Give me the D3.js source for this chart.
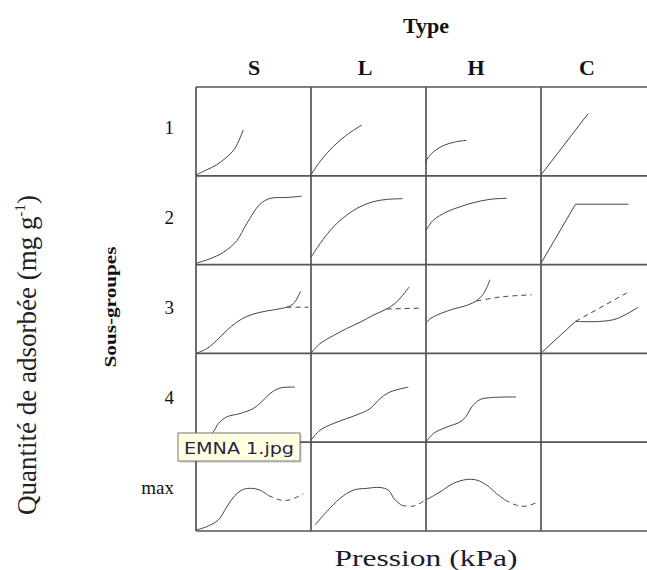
<!DOCTYPE html>
<html>
<head>
<meta charset="utf-8">
<script src="https://cdn.jsdelivr.net/npm/d3@7"></script>
<style>
  body { margin: 0; background: #fff; }
  svg { display: block; }
</style>
</head>
<body>
<script>
/* Data: isotherm shapes per type (S, L, H, C) and sub-group (1..4, max)
   points are [relative pressure, relative amount] inside each cell */

var types = ["S", "L", "H", "C"];
var subgroups = ["1", "2", "3", "4", "max"];

var s1 = [[0,0.01],[0.093,0.067],[0.18,0.124],[0.267,0.21],[0.339,0.31],[0.411,0.517]];
var l1 = [[0,0.01],[0.078,0.16],[0.194,0.33],[0.31,0.46],[0.44,0.57]];
var h1 = [[0,0.14],[0.006,0.18],[0.064,0.27],[0.15,0.34],[0.25,0.38],[0.35,0.40]];
var c1 = [[0,0.01],[0.41,0.70]];

var s2 = [[0,0.015],[0.12,0.065],[0.24,0.14],[0.355,0.27],[0.44,0.46],[0.557,0.68],[0.643,0.745],[0.79,0.756],[0.92,0.77]];
var l2 = [[0,0.083],[0.078,0.235],[0.194,0.424],[0.31,0.557],[0.426,0.651],[0.54,0.708],[0.667,0.735],[0.797,0.742]];
var h2 = [[0,0.386],[0.064,0.5],[0.18,0.594],[0.296,0.651],[0.41,0.697],[0.557,0.735],[0.702,0.747]];
var c2 = [[0,0.015],[0.30,0.68],[0.76,0.68]];

var s3 = [[0,0],[0.093,0.053],[0.18,0.146],[0.267,0.258],[0.354,0.351],[0.441,0.416],[0.557,0.463],[0.672,0.49],[0.788,0.52],[0.846,0.558],[0.91,0.70]];
var s3Desorb = [[0.788,0.52],[0.977,0.52]];
var l3 = [[0,0.003],[0.078,0.11],[0.194,0.20],[0.31,0.28],[0.426,0.35],[0.54,0.43],[0.658,0.50],[0.745,0.58],[0.855,0.75]];
var l3Desorb = [[0.658,0.50],[0.963,0.51]];
var h3 = [[0,0.34],[0.035,0.39],[0.122,0.446],[0.238,0.50],[0.354,0.54],[0.441,0.595],[0.499,0.67],[0.557,0.83]];
var h3Desorb = [[0.441,0.59],[0.644,0.635],[0.92,0.66]];
var c3 = [[0,0.003],[0.30,0.36]];
var c3Branch = [[0.30,0.36],[0.513,0.36],[0.658,0.39],[0.846,0.52]];
var c3Desorb = [[0.30,0.36],[0.745,0.68]];

var s4 = [[0,0],[0.07,0.04],[0.15,0.116],[0.194,0.21],[0.267,0.285],[0.383,0.323],[0.498,0.379],[0.57,0.453],[0.643,0.547],[0.73,0.61],[0.86,0.62]];
var l4 = [[0,0.022],[0.078,0.135],[0.194,0.21],[0.31,0.266],[0.426,0.322],[0.513,0.378],[0.6,0.49],[0.687,0.565],[0.846,0.62]];
var h4 = [[0,0.003],[0.064,0.098],[0.18,0.17],[0.296,0.228],[0.354,0.30],[0.397,0.397],[0.47,0.48],[0.542,0.50],[0.783,0.51]];

var s5 = [[0,0.01],[0.093,0.049],[0.194,0.124],[0.267,0.27],[0.339,0.40],[0.411,0.468],[0.484,0.48],[0.557,0.46],[0.629,0.40]];
var s5Dash = [[0.629,0.40],[0.73,0.35],[0.817,0.35],[0.933,0.42]];
var l5 = [[0.035,0.067],[0.136,0.217],[0.252,0.367],[0.368,0.46],[0.484,0.48],[0.60,0.49],[0.672,0.46],[0.73,0.35],[0.788,0.29]];
var l5Dash = [[0.788,0.29],[0.89,0.28],[0.997,0.35]];
var h5 = [[0,0.35],[0.122,0.44],[0.238,0.536],[0.354,0.58],[0.441,0.573],[0.528,0.517],[0.614,0.42],[0.687,0.35]];
var h5Dash = [[0.687,0.35],[0.788,0.29],[0.875,0.28],[0.977,0.33]];

var curves = [
	{type: "S", group: "1", pts: s1}, {type: "L", group: "1", pts: l1},
	{type: "H", group: "1", pts: h1}, {type: "C", group: "1", pts: c1, straight: true},
	{type: "S", group: "2", pts: s2}, {type: "L", group: "2", pts: l2},
	{type: "H", group: "2", pts: h2}, {type: "C", group: "2", pts: c2, straight: true},
	{type: "S", group: "3", pts: s3}, {type: "S", group: "3", pts: s3Desorb, dashed: true},
	{type: "L", group: "3", pts: l3}, {type: "L", group: "3", pts: l3Desorb, dashed: true},
	{type: "H", group: "3", pts: h3}, {type: "H", group: "3", pts: h3Desorb, dashed: true},
	{type: "C", group: "3", pts: c3, straight: true}, {type: "C", group: "3", pts: c3Branch},
	{type: "C", group: "3", pts: c3Desorb, dashed: true, straight: true},
	{type: "S", group: "4", pts: s4}, {type: "L", group: "4", pts: l4}, {type: "H", group: "4", pts: h4},
	{type: "S", group: "max", pts: s5}, {type: "S", group: "max", pts: s5Dash, dashed: true},
	{type: "L", group: "max", pts: l5}, {type: "L", group: "max", pts: l5Dash, dashed: true},
	{type: "H", group: "max", pts: h5}, {type: "H", group: "max", pts: h5Dash, dashed: true}
];


/* Canvas */

var width = 647;
var height = 570;

var svg = d3.select("body").append("svg")
	.attr("width", width)
	.attr("height", height);

var serif = "'Liberation Serif', 'Times New Roman', serif";

// grid of cells
var col = d3.scaleBand().domain(types).range([196, 656]);
var row = d3.scaleBand().domain(subgroups).range([87, 531]);

// label positions (the printed labels sit a little off the cell centres)
var headerX = d3.scalePoint().domain(types).range([254, 587]);
var rowLabelY = d3.scalePoint().domain(subgroups).range([134, 494]);

// pressure / amount inside one cell
var px = d3.scaleLinear().domain([0, 1]).range([0, col.bandwidth()]);
var py = d3.scaleLinear().domain([0, 1]).range([row.bandwidth(), 0]);

var grid = svg.append("g").attr("class", "grid");

grid.selectAll("line.v")
	.data(types.concat(["end"]))
	.enter().append("line")
		.attr("class", "v")
		.attr("x1", function(d, i) { return col.range()[0] + i * col.bandwidth(); })
		.attr("x2", function(d, i) { return col.range()[0] + i * col.bandwidth(); })
		.attr("y1", row.range()[0])
		.attr("y2", row.range()[1])
		.attr("stroke", "#555")
		.attr("stroke-width", 1.7);

grid.selectAll("line.h")
	.data(subgroups.concat(["end"]))
	.enter().append("line")
		.attr("class", "h")
		.attr("x1", col.range()[0])
		.attr("x2", col.range()[1])
		.attr("y1", function(d, i) { return row.range()[0] + i * row.bandwidth(); })
		.attr("y2", function(d, i) { return row.range()[0] + i * row.bandwidth(); })
		.attr("stroke", "#555")
		.attr("stroke-width", 1.7);

// isotherms
var smooth = d3.line()
	.x(function(d) { return px(d[0]); })
	.y(function(d) { return py(d[1]); })
	.curve(d3.curveCatmullRom.alpha(0.5));

var straight = d3.line()
	.x(function(d) { return px(d[0]); })
	.y(function(d) { return py(d[1]); });

svg.append("g")
	.attr("class", "curves")
	.selectAll("path")
	.data(curves)
	.enter().append("path")
		.attr("transform", function(d) { return "translate(" + col(d.type) + "," + row(d.group) + ")"; })
		.attr("d", function(d) { return d.straight ? straight(d.pts) : smooth(d.pts); })
		.attr("fill", "none")
		.attr("stroke", "#444")
		.attr("stroke-width", 1)
		.attr("stroke-dasharray", function(d) { return d.dashed ? "5,4" : null; });

// titles and labels
svg.append("text")
	.attr("x", 426)
	.attr("y", 33)
	.attr("text-anchor", "middle")
	.attr("font-family", serif)
	.attr("font-weight", "bold")
	.attr("font-size", 22)
	.attr("fill", "#111")
	.text("Type");

svg.selectAll("text.header")
	.data(types)
	.enter().append("text")
		.attr("class", "header")
		.attr("x", function(d) { return headerX(d); })
		.attr("y", 75)
		.attr("text-anchor", "middle")
		.attr("font-family", serif)
		.attr("font-weight", "bold")
		.attr("font-size", 22)
		.attr("fill", "#111")
		.text(function(d) { return d; });

svg.selectAll("text.rowlabel")
	.data(subgroups)
	.enter().append("text")
		.attr("class", "rowlabel")
		.attr("x", 174)
		.attr("y", function(d) { return rowLabelY(d); })
		.attr("text-anchor", "end")
		.attr("font-family", serif)
		.attr("font-size", 19)
		.attr("fill", "#111")
		.text(function(d) { return d; });

svg.append("text")
	.attr("transform", "translate(116,307) rotate(-90)")
	.attr("text-anchor", "middle")
	.attr("font-family", serif)
	.attr("font-weight", "bold")
	.attr("font-size", 17)
	.attr("textLength", 121)
	.attr("lengthAdjust", "spacingAndGlyphs")
	.attr("fill", "#111")
	.text("Sous-groupes");

var yTitle = svg.append("text")
	.attr("transform", "translate(36,355) rotate(-90)")
	.attr("text-anchor", "middle")
	.attr("font-family", serif)
	.attr("font-size", 27)
	.attr("fill", "#222");
yTitle.append("tspan").text("Quantité de adsorbée (mg g");
yTitle.append("tspan").attr("font-size", 15).attr("dy", -11).text("-1");
yTitle.append("tspan").attr("dy", 11).text(")");

svg.append("text")
	.attr("x", 426)
	.attr("y", 566)
	.attr("text-anchor", "middle")
	.attr("font-family", serif)
	.attr("font-size", 23)
	.attr("textLength", 183)
	.attr("lengthAdjust", "spacingAndGlyphs")
	.attr("fill", "#1c1c30")
	.text("Pression (kPa)");

// file-name tooltip that sits over the chart
var tip = svg.append("g").attr("class", "tooltip");

tip.append("rect")
	.attr("x", 180)
	.attr("y", 435)
	.attr("width", 122)
	.attr("height", 28)
	.attr("fill", "#000")
	.attr("opacity", 0.12);

tip.append("rect")
	.attr("x", 178)
	.attr("y", 433)
	.attr("width", 122)
	.attr("height", 28)
	.attr("fill", "#ffffe1")
	.attr("stroke", "#767676")
	.attr("stroke-width", 1);

tip.append("text")
	.attr("x", 184)
	.attr("y", 454)
	.attr("font-family", "'DejaVu Sans', sans-serif")
	.attr("font-size", 16)
	.attr("textLength", 110)
	.attr("lengthAdjust", "spacingAndGlyphs")
	.attr("fill", "#2a1f45")
	.text("EMNA 1.jpg");
</script>
</body>
</html>
